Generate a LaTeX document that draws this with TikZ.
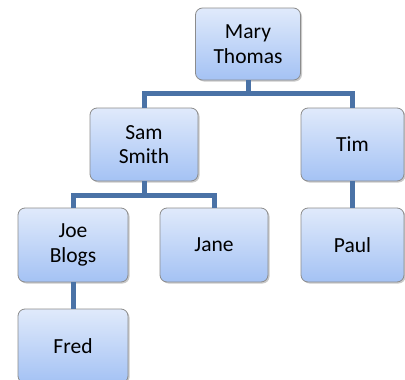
\documentclass[tikz,border=0pt]{standalone}
\usepackage{fontspec}
\setmainfont{Carlito}
\usetikzlibrary{shadows}
\definecolor{boxtop}{HTML}{E0EAFB}
\definecolor{boxbot}{HTML}{A4C2F4}
\definecolor{boxline}{HTML}{8C8C8C}
\definecolor{connc}{HTML}{4A72A6}
\tikzset{
  person/.style={draw=boxline, line width=0.8pt, rounded corners=7pt,
    top color=boxtop, bottom color=boxbot, align=center,
    font=\fontsize{21.5}{24.5}\selectfont, inner sep=0pt,
    drop shadow={shadow xshift=1.5pt, shadow yshift=-1.5pt, opacity=0.35, fill=black!60}},
  conn/.style={draw=connc, line width=5pt}
}
\begin{document}
\begin{tikzpicture}[x=1pt,y=-1pt]
\useasboundingbox (0,0) rectangle (405,380);
\clip (0,0) rectangle (405,380);
\coordinate (bar1) at (200,93.5);
\coordinate (bar2) at (140,195);
\node[person, minimum width=105pt, minimum height=72pt] (mary) at (248,44) {Mary\\Thomas};
\node[person, minimum width=108pt, minimum height=73pt] (sam) at (144,144.5) {Sam\\Smith};
\node[person, minimum width=103pt, minimum height=73pt] (tim) at (352.5,144.5) {Tim};
\node[person, minimum width=110pt, minimum height=74pt] (joe) at (73,245) {Joe\\Blogs};
\node[person, minimum width=108pt, minimum height=74pt] (jane) at (214,245) {Jane};
\node[person, minimum width=103pt, minimum height=74pt] (paul) at (352.5,245) {Paul};
\node[person, minimum width=110pt, minimum height=74pt] (fred) at (73,346) {Fred};
\draw[conn] (mary.south) -- (mary.south |- bar1);
\draw[conn] (sam.north) |- (bar1) -| (tim.north);
\draw[conn] (sam.south) -- (sam.south |- bar2);
\draw[conn] (joe.north) |- (bar2) -| (jane.north);
\draw[conn] (tim.south) -- (paul.north);
\draw[conn] (joe.south) -- (fred.north);
\end{tikzpicture}
\end{document}
